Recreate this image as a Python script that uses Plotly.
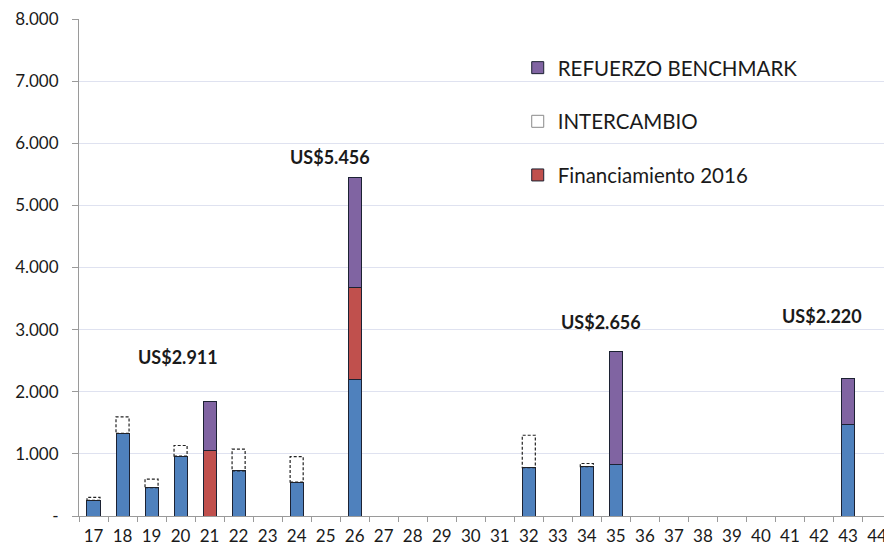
import plotly.graph_objects as go

# Categories on the x axis
categorias = [str(n) for n in range(17, 45)]

# Stacked components by category (None = no bar)
base = {"17": 250, "18": 1330, "19": 455, "20": 965, "22": 725, "24": 545,
        "26": 2200, "32": 780, "34": 795, "35": 826, "43": 1470}
financiamiento_2016 = {"21": 1055, "26": 1480}
intercambio = {"17": 50, "18": 265, "19": 140, "20": 170, "22": 350, "24": 410,
               "32": 520, "34": 50}
refuerzo_benchmark = {"21": 795, "26": 1776, "35": 1830, "43": 750}

# Total labels: (text, x position as category index, y)
etiquetas = [("US$2.911", 2.9, 2560), ("US$5.456", 8.14, 5780),
             ("US$2.656", 17.48, 3125), ("US$2.220", 25.1, 3220)]

y_ticks = [0, 1000, 2000, 3000, 4000, 5000, 6000, 7000, 8000]
y_ticktext = ["-", "1.000", "2.000", "3.000", "4.000", "5.000", "6.000", "7.000", "8.000"]

AZUL = "#4f81bd"
ROJO = "#c0504d"
MORADO = "#8064a2"
BORDE = "#1c2233"
ANCHO = 0.45
FUENTE = "Lato"


def serie(d):
    return [d.get(c) for c in categorias]


fig = go.Figure()
fig.add_trace(go.Bar(x=categorias, y=serie(base), marker=dict(color=AZUL, line=dict(color=BORDE, width=1)),
                     width=ANCHO, showlegend=False, legendgroup="a"))
fig.add_trace(go.Bar(x=categorias, y=serie(financiamiento_2016), name="Financiamiento 2016",
                     marker=dict(color=ROJO, line=dict(color=BORDE, width=1)), width=ANCHO,
                     legendgroup="b", legendrank=3))
fig.add_trace(go.Bar(x=categorias, y=serie(intercambio), marker=dict(color="rgba(255,255,255,0)", line=dict(width=0)),
                     width=ANCHO, showlegend=False, legendgroup="c"))
fig.add_trace(go.Bar(x=[None], y=[None], name="INTERCAMBIO",
                     marker=dict(color="white", line=dict(color="#8a8a8a", width=1)),
                     legendgroup="c", legendrank=2))
fig.add_trace(go.Bar(x=categorias, y=serie(refuerzo_benchmark), name="REFUERZO BENCHMARK",
                     marker=dict(color=MORADO, line=dict(color=BORDE, width=1)), width=ANCHO,
                     legendgroup="d", legendrank=1))

# Dashed outline for the INTERCAMBIO segments, stacked on top of the base
for i, c in enumerate(categorias):
    v = intercambio.get(c)
    if v is None:
        continue
    b = (base.get(c) or 0) + (financiamiento_2016.get(c) or 0)
    fig.add_shape(type="rect", xref="x", yref="y", x0=i - ANCHO / 2, x1=i + ANCHO / 2, y0=b, y1=b + v,
                  line=dict(color="#222222", width=1.2, dash="3px,2px"), fillcolor="rgba(0,0,0,0)", layer="above")

for texto, xi, yv in etiquetas:
    fig.add_annotation(x=xi, y=yv, xref="x", yref="y", text="<b>" + texto + "</b>", showarrow=False,
                       font=dict(family=FUENTE, size=18, color="#1a1a1a"))

fig.update_layout(
    barmode="stack",
    width=884, height=553,
    margin=dict(l=79, r=0, t=19, b=37),
    paper_bgcolor="white", plot_bgcolor="white",
    font=dict(family=FUENTE, size=16, color="#1a1a1a"),
    legend=dict(x=0.545, y=0.942, xanchor="left", yanchor="top", traceorder="grouped",
                tracegroupgap=24, font=dict(size=20.5, color="#1a1a1a"), bgcolor="rgba(255,255,255,0)",
                itemwidth=30),
)
fig.update_xaxes(type="category", categoryorder="array", categoryarray=categorias,
                 range=[-0.5, 27.24], tickson="boundaries", ticks="outside", ticklen=5,
                 tickcolor="#9a9a9a", showline=True, linecolor="#9a9a9a", linewidth=1,
                 showgrid=False, tickfont=dict(size=17), ticklabelstandoff=5,
                 tickangle=0, automargin=False)
fig.update_yaxes(range=[0, 8000], tickvals=y_ticks, ticktext=y_ticktext, ticks="outside", ticklen=6,
                 tickcolor="#9a9a9a", showline=True, linecolor="#9a9a9a", linewidth=1,
                 gridcolor="#dfe2f0", gridwidth=1.2, zeroline=False, tickfont=dict(size=17), ticklabelstandoff=10,
                 automargin=False)

fig.write_html("out.html")
